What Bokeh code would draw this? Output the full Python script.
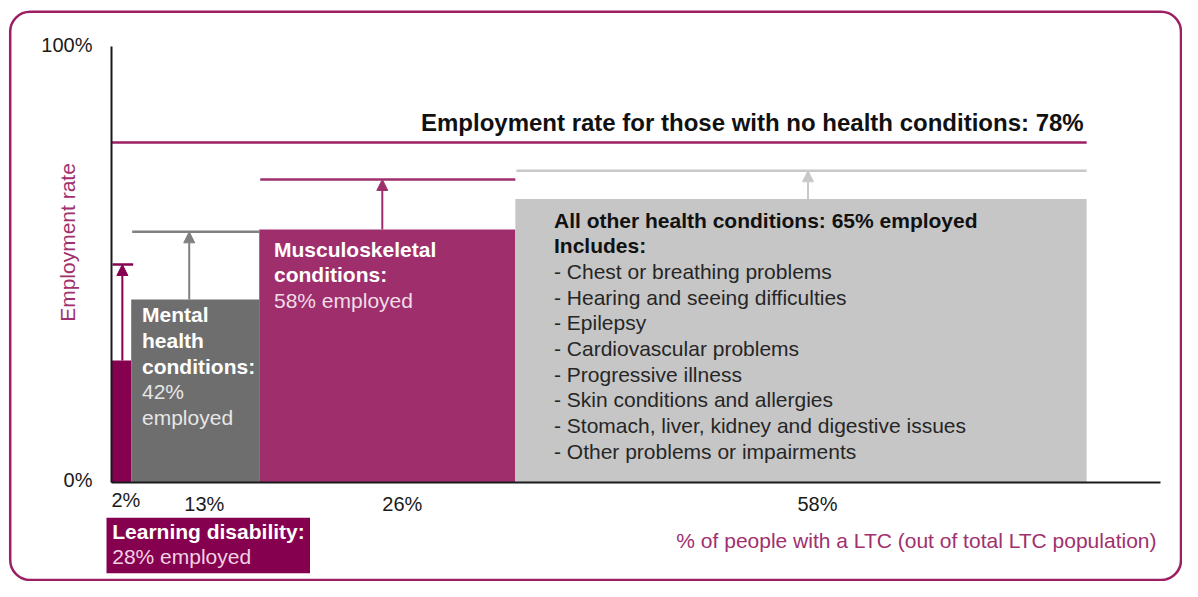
import math
from bokeh.plotting import figure
from bokeh.models import Arrow, NormalHead, Range1d
from bokeh.embed import file_html
from bokeh.resources import INLINE
from bokeh.core.properties import value

# ---------------- data ----------------
categories = ["Learning disability", "Mental health conditions",
              "Musculoskeletal conditions", "All other health conditions"]
share_pct = [2, 13, 26, 58]            # % of people with a LTC
employed_pct = [28, 42, 58, 65]        # employment rate of each group
potential_pct = [50, 57.5, 69.5, 71.5]  # arrow target levels
no_condition_pct = 78
share_labels = ["2%", "13%", "26%", "58%"]
y_tick_values = [0, 100]
y_tick_labels = ["0%", "100%"]
other_conditions = ["Chest or breathing problems", "Hearing and seeing difficulties",
                    "Epilepsy", "Cardiovascular problems", "Progressive illness",
                    "Skin conditions and allergies",
                    "Stomach, liver, kidney and digestive issues",
                    "Other problems or impairments"]

# ---------------- layout helpers ----------------
W, H = 1182, 581
X0_PX, Y0_PX = 111, 482     # pixel of the origin
PXX, PXY = 9.85, 4.36       # pixels per unit
MID = 0.37                  # baseline -> visual middle, in em

def dx(px):
    return (px - X0_PX) / PXX

def dy(py):
    return (Y0_PX - py) / PXY

def dyb(baseline_px, fs):
    # y for a text whose baseline should sit at baseline_px (drawn with middle baseline)
    return dy(baseline_px - MID * fs)

FONT = value("Liberation Sans")
bar_colors = ["#860050", "#6E6E6E", "#9E2F6C", "#C6C6C6"]
line_colors = ["#860050", "#808080", "#9E2F6C", "#C8C8C8"]
ACCENT = "#9C1F63"
LABEL_COLOR = "#A0306E"

p = figure(width=W, height=H, x_range=Range1d(dx(0), dx(W)),
           y_range=Range1d(dy(H), dy(0)), output_backend="svg",
           toolbar_location=None, x_axis_location=None, y_axis_location=None,
           min_border=0)
p.grid.visible = False
p.outline_line_color = None
p.background_fill_color = "white"

# outer rounded frame
p.quad(left=[dx(9.7)], right=[dx(1180.5)], bottom=[dy(579.5)], top=[dy(11.3)],
       fill_color=None, line_color=ACCENT, line_width=2.5, border_radius=20)

# bars
rights = []
acc = 0
for s in share_pct:
    acc += s
    rights.append(acc)
lefts = [r - s for r, s in zip(rights, share_pct)]
centers = [(l + r) / 2 for l, r in zip(lefts, rights)]
total = rights[-1]

p.quad(left=lefts, right=rights, bottom=0, top=employed_pct,
       fill_color=bar_colors, line_color=None)

# target lines
seg_left = [l + 0.1 for l in lefts]
seg_right = list(rights)
seg_right[0] = rights[0] + 0.2
p.segment(x0=seg_left, x1=seg_right, y0=potential_pct, y1=potential_pct,
          line_color=line_colors, line_width=2.5)

# arrows
arrow_nudge_px = [1, -6, -5, 7]
for i in range(len(categories)):
    xc = centers[i] + arrow_nudge_px[i] / PXX
    c = line_colors[i]
    p.add_layout(Arrow(end=NormalHead(size=11, fill_color=c, line_color=c, line_width=1),
                       x_start=xc, y_start=employed_pct[i], x_end=xc,
                       y_end=potential_pct[i], line_color=c, line_width=2))

# no-condition reference line
p.segment(x0=[0], x1=[total], y0=[no_condition_pct], y1=[no_condition_pct],
          line_color=ACCENT, line_width=2.5)
ref_baseline_px = Y0_PX - no_condition_pct * PXY - 11
p.text(x=[total - 0.3], y=[dyb(ref_baseline_px, 24)],
       text=[f"Employment rate for those with no health conditions: {no_condition_pct}%"],
       text_align="right", text_baseline="middle", text_font=FONT,
       text_font_size="24px", text_font_style="bold", text_color="#111111")

# axes
p.segment(x0=[0], x1=[0], y0=[0], y1=[100], line_color="#1A1A1A", line_width=2)
p.segment(x0=[0], x1=[dx(1160)], y0=[0], y1=[0], line_color="#1A1A1A", line_width=2)
p.text(x=[dx(92)] * 2, y=[dyb(486.5, 20), dyb(51.5, 20)], text=y_tick_labels,
       text_align="right", text_baseline="middle", text_font=FONT,
       text_font_size="20px", text_color="#1A1A1A")

tick_nudge_px = [4.6, 9.1, 15, 16.5]
tick_base_px = [506.5, 510.5, 510.5, 511]
p.text(x=[c + n / PXX for c, n in zip(centers, tick_nudge_px)],
       y=[dyb(b, 20) for b in tick_base_px], text=share_labels,
       text_align="center", text_baseline="middle", text_font=FONT,
       text_font_size="20px", text_color="#1A1A1A")

p.text(x=[dx(1156)], y=[dyb(548, 21)],
       text=["% of people with a LTC (out of total LTC population)"],
       text_align="right", text_baseline="middle", text_font=FONT,
       text_font_size="21px", text_color=LABEL_COLOR)
p.text(x=[dx(67)], y=[dy(242)], text=["Employment rate"], angle=math.pi / 2,
       text_align="center", text_baseline="middle", text_font=FONT,
       text_font_size="21px", text_color=LABEL_COLOR)

LH = 25.7

def lines(x_px, y_px0, texts, style, color, start=0):
    p.text(x=[dx(x_px)] * len(texts),
           y=[dyb(y_px0 + LH * (start + k), 21) for k in range(len(texts))],
           text=texts, text_align="left", text_baseline="middle",
           text_font=FONT, text_font_size="21px", text_font_style=style,
           text_color=color)

# Mental health label
lines(141.5, 322, ["Mental", "health", "conditions:"], "bold", "white")
lines(141.5, 322, [f"{employed_pct[1]}%", "employed"], "normal", "#E6E6E6", start=3)

# Musculoskeletal label
lines(273.5, 256.5, ["Musculoskeletal", "conditions:"], "bold", "white")
lines(273.5, 256.5, [f"{employed_pct[2]}% employed"], "normal", "#F1DCE7", start=2)

# All other label
lines(553.5, 227.3, [f"All other health conditions: {employed_pct[3]}% employed", "Includes:"],
      "bold", "#111111")
lines(553.5, 227.3, ["- " + t for t in other_conditions], "normal", "#262626", start=2)

# Learning disability box
p.quad(left=[dx(106)], right=[dx(309.5)], bottom=[dy(572.7)], top=[dy(517.3)],
       fill_color=bar_colors[0], line_color=None)
p.text(x=[dx(111.7)] * 2, y=[dyb(539, 21), dyb(563.5, 21)],
       text=["Learning disability:", f"{employed_pct[0]}% employed"],
       text_align="left", text_baseline="middle", text_font=FONT,
       text_font_size="21px", text_font_style=["bold", "normal"],
       text_color=["white", "#F0D2E2"])

open("out.html", "w").write(file_html(p, INLINE))
